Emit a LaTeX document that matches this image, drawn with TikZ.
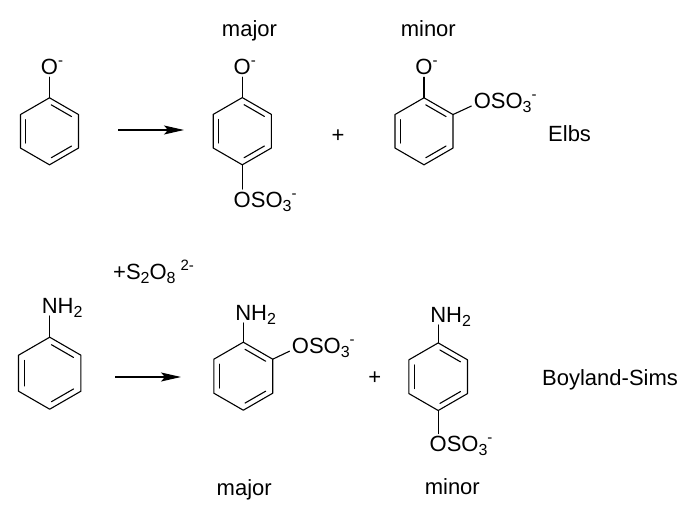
\documentclass[tikz,border=0pt]{standalone}
\usepackage{fontspec}
\setmainfont{Liberation Sans}
\usetikzlibrary{calc,arrows.meta}
\newcommand\grp[2]{#1\rlap{\smash{#2}}}
\newcommand\lo[1]{\raisebox{-4pt}{\fontsize{16}{16}\selectfont #1}}
\newcommand\hi[1]{\raisebox{9pt}{\fontsize{15}{15}\selectfont #1}}
\tikzset{
  atom/.style={inner sep=2.5pt, outer sep=0pt, font=\fontsize{22}{26}\selectfont},
  lbl/.style={inner sep=0pt, font=\fontsize{22}{26}\selectfont},
  bond/.style={line width=1.1pt, line cap=round, line join=round},
  rxn/.style={line width=1.1pt, -{Stealth[length=20pt,width=9pt,inset=4pt]}}
}
\begin{document}
\begin{tikzpicture}[x=1pt,y=-1pt]
\useasboundingbox (0,0) rectangle (688,506);
% rings: name/x/y/radius
\foreach \n/\cx/\cy/\r in {1/49.5/131.3/33.5, 2/242.3/131.2/33.6, 3/424/131.3/33.5,
  4/49.7/373.2/36, 5/243.3/376.2/34, 6/438.2/376.7/33.8}{
  \coordinate (c\n) at (\cx,\cy);
  \foreach \k in {0,...,5}
    \coordinate (r\n-\k) at ($(c\n)+(-90+60*\k:\r)$);
  \draw[bond] (r\n-0) -- (r\n-1) -- (r\n-2) -- (r\n-3) -- (r\n-4) -- (r\n-5) -- cycle;
  \foreach \a/\b in {0/1,2/3,4/5}
    \draw[bond, shorten <=2pt, shorten >=2pt] ($(c\n)!0.82!(r\n-\a)$) -- ($(c\n)!0.82!(r\n-\b)$);
}
% Elbs row
\node[atom, anchor=base] (o1) at (49.5,74.5) {\grp{O}{\hi{-}}};
\node[atom, anchor=base] (o2) at (242.3,74.5) {\grp{O}{\hi{-}}};
\node[atom, anchor=base] (s2) at (242.3,207) {\grp{O}{SO\lo{3}\hi{-}}};
\node[atom, anchor=base] (o3) at (424,74.5) {\grp{O}{\hi{-}}};
\node[atom, anchor=base] (s3) at (482.4,108.5) {\grp{O}{SO\lo{3}\hi{-}}};
\draw[bond] (r1-0) -- (o1);
\draw[bond] (r2-0) -- (o2);
\draw[bond] (r2-3) -- (s2);
\draw[bond] (r3-0) -- (o3);
\draw[bond] (r3-1) -- (s3);
% Boyland-Sims row
\node[atom, anchor=base] (n4) at (49.7,313.5) {\grp{N}{H\lo{2}}};
\node[atom, anchor=base] (n5) at (243.3,320.5) {\grp{N}{H\lo{2}}};
\node[atom, anchor=base] (s5) at (300.5,353.5) {\grp{O}{SO\lo{3}\hi{-}}};
\node[atom, anchor=base] (n6) at (438.2,322.5) {\grp{N}{H\lo{2}}};
\node[atom, anchor=base] (s6) at (438.2,451.5) {\grp{O}{SO\lo{3}\hi{-}}};
\draw[bond] (r4-0) -- (n4);
\draw[bond] (r5-0) -- (n5);
\draw[bond] (r5-1) -- (s5);
\draw[bond] (r6-0) -- (n6);
\draw[bond] (r6-3) -- (s6);
% arrows
\coordinate (a1) at (118,130);
\coordinate (b1) at (184,130);
\coordinate (a2) at (115,377);
\coordinate (b2) at (181,377);
\draw[rxn] (a1) -- (b1);
\draw[rxn] (a2) -- (b2);
% texts
\node[lbl, anchor=base] (maj1) at (249.5,36.5) {major};
\node[lbl, anchor=base] (min1) at (428.3,36) {minor};
\node[lbl, anchor=base west] (elbs) at (548,141.5) {Elbs};
\node[lbl] (plus1) at (338,136) {+};
\node[lbl, anchor=base west] (pers) at (113,279) {+S\lo{2}O\lo{8}\hspace{5pt}\hi{2-}};
\node[lbl] (plus2) at (374.7,378) {+};
\node[lbl, anchor=base west] (bs) at (542,385) {Boyland-Sims};
\node[lbl, anchor=base] (maj2) at (244.2,495) {major};
\node[lbl, anchor=base] (min2) at (452.3,494) {minor};
\end{tikzpicture}
\end{document}
